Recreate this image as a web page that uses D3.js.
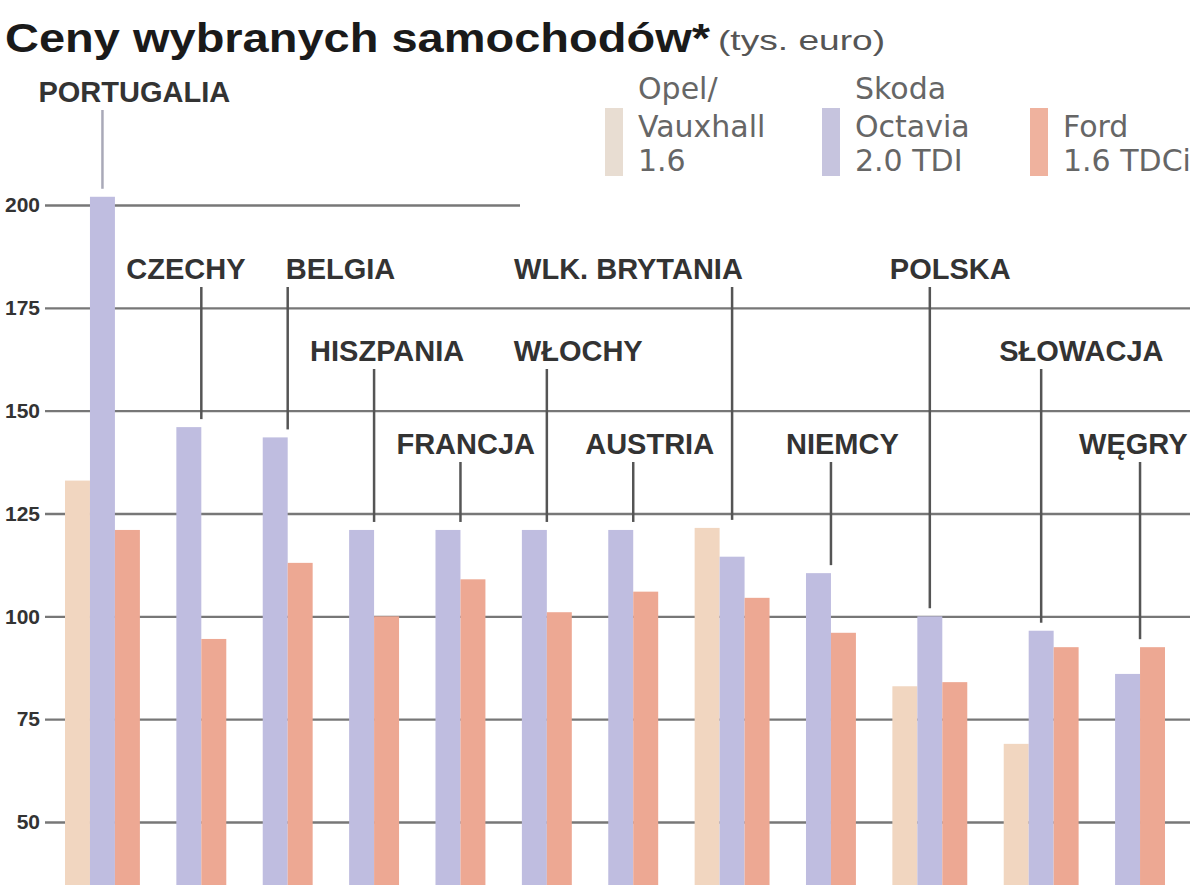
<!DOCTYPE html>
<html>
<head>
<meta charset="utf-8">
<script src="https://cdn.jsdelivr.net/npm/d3@7"></script>
<style>
  body { margin: 0; background: #fff; }
  svg { display: block; }
</style>
</head>
<body>
<div id="chart"></div>
<script>
// data (tys. euro)
var countries = ['PORTUGALIA', 'CZECHY', 'BELGIA', 'HISZPANIA', 'FRANCJA', 'WŁOCHY',
  'AUSTRIA', 'WLK. BRYTANIA', 'NIEMCY', 'POLSKA', 'SŁOWACJA', 'WĘGRY'];
var opel  = [133, null, null, null, null, null, null, 121.5, null, 83, 69, null];
var skoda = [202, 146, 143.5, 121, 121, 121, 121, 114.5, 110.5, 100, 96.5, 86];
var ford  = [121, 94.5, 113, 100, 109, 101, 106, 104.5, 96, 84, 92.5, 92.5];
var yTicks = [50, 75, 100, 125, 150, 175, 200];
var seriesNames = [['Opel/', 'Vauxhall', '1.6'], ['Skoda', 'Octavia', '2.0 TDI'], ['Ford', '1.6 TDCi']];

// label placement: row and offset of text from the leader line
var labelRow = [0, 1, 1, 2, 3, 2, 3, 1, 3, 1, 2, 3];
var labelDx  = [-64, -75, -2, -64, -64, -33, -48, -218, -45, -40, -42, -61];
var rowY = [102, 279, 361, 454];

var W = 1200, H = 885;
var colors = ['#f1d6c0', '#bfbde0', '#eda893'];
var swatchColors = ['#e8ddd2', '#c6c4de', '#efb29e'];

var svg = d3.select('#chart').append('svg')
  .attr('width', W)
  .attr('height', H);

svg.append('rect').attr('width', W).attr('height', H).attr('fill', '#fff');

// flatten into bars, skipping missing values; gaps between country groups
var series = [opel, skoda, ford];
var gapUnits = 1.46;
var bars = [], groups = [], pos = 0;
countries.forEach(function (c, i) {
  var start = pos;
  series.forEach(function (s, k) {
    if (s[i] != null) {
      bars.push({country: c, idx: i, series: k, value: s[i], u: pos});
      pos += 1;
    }
  });
  var vals = series.map(function (s) { return s[i]; }).filter(function (v) { return v != null; });
  groups.push({name: c, idx: i, center: (start + pos) / 2, max: d3.max(vals)});
  pos += gapUnits;
});
var totalUnits = pos - gapUnits;

var x = d3.scaleLinear().domain([0, totalUnits]).range([65, 1165]);
var y = d3.scaleLinear().domain([50, 200]).range([822, 205]);
var barW = x(1) - x(0);

// gridlines + tick labels
var axis = svg.append('g')
  .attr('transform', 'translate(45,0)')
  .call(d3.axisLeft(y).tickValues(yTicks).tickSize(-1145).tickPadding(5));
axis.select('.domain').remove();
axis.selectAll('.tick line')
  .attr('stroke', '#777')
  .attr('stroke-width', 2.4)
  .filter(function (d) { return d === 200; })
  .attr('x2', 475);
axis.selectAll('.tick text')
  .attr('fill', '#333')
  .style('font-family', 'Liberation Sans, Arial, sans-serif')
  .style('font-weight', 'bold')
  .style('font-size', '21px');

// bars
svg.append('g').selectAll('rect').data(bars)
  .enter().append('rect')
  .attr('x', function (d) { return x(d.u); })
  .attr('width', barW)
  .attr('y', function (d) { return y(d.value); })
  .attr('height', function (d) { return y(0) - y(d.value); })
  .attr('fill', function (d) { return colors[d.series]; });

// leader lines and country labels
var lab = svg.append('g').selectAll('g').data(groups).enter().append('g');
lab.append('line')
  .attr('x1', function (d) { return x(d.center); })
  .attr('x2', function (d) { return x(d.center); })
  .attr('y1', function (d) { return rowY[labelRow[d.idx]] + 8; })
  .attr('y2', function (d) { return y(d.max) - 8; })
  .attr('stroke', function (d) { return d.idx === 0 ? '#a9a9b8' : '#555'; })
  .attr('stroke-width', 2.5);
lab.append('text')
  .attr('x', function (d) { return x(d.center) + labelDx[d.idx]; })
  .attr('y', function (d) { return rowY[labelRow[d.idx]]; })
  .attr('fill', '#333')
  .style('font-family', 'Liberation Sans, Arial, sans-serif')
  .style('font-weight', 'bold')
  .style('font-size', '29px')
  .text(function (d) { return d.name; });

// title
svg.append('text')
  .attr('x', 5).attr('y', 52)
  .attr('fill', '#1a1a1a')
  .attr('textLength', 705)
  .attr('lengthAdjust', 'spacingAndGlyphs')
  .style('font-family', 'Liberation Sans, Arial, sans-serif')
  .style('font-weight', 'bold')
  .style('font-size', '40px')
  .text('Ceny wybranych samochodów*');
svg.append('text')
  .attr('x', 718).attr('y', 50)
  .attr('fill', '#555')
  .attr('textLength', 167)
  .attr('lengthAdjust', 'spacingAndGlyphs')
  .style('font-family', 'Liberation Sans, Arial, sans-serif')
  .style('font-size', '28px')
  .text('(tys. euro)');

// legend
var legX = [605, 822, 1030];
var leg = svg.append('g').selectAll('g').data(seriesNames).enter().append('g')
  .attr('transform', function (d, i) { return 'translate(' + legX[i] + ',0)'; });
leg.append('rect')
  .attr('x', 0).attr('y', 108)
  .attr('width', 18).attr('height', 68)
  .attr('fill', function (d, i) { return swatchColors[i]; });
leg.each(function (d) {
  var g = d3.select(this);
  var lineYs = [99, 137, 171];
  var off = 3 - d.length;
  d.forEach(function (t, j) {
    g.append('text')
      .attr('x', 33)
      .attr('y', lineYs[j + off])
      .attr('fill', '#666')
      .style('font-family', 'DejaVu Sans, sans-serif')
      .style('font-size', '30px')
      .text(t);
  });
});
</script>
</body>
</html>
